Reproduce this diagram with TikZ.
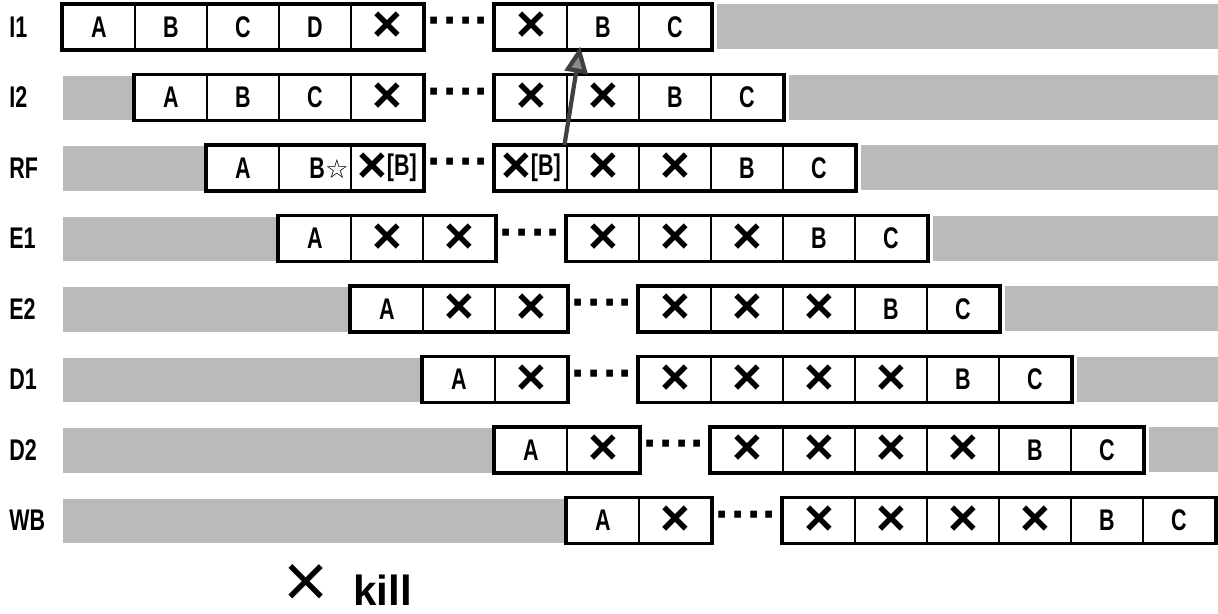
\documentclass[tikz,border=0pt]{standalone}
\usepackage{fontspec}
\usepackage{tikz}
\usetikzlibrary{arrows.meta, positioning, calc}
\newfontfamily\narrowsf[FakeStretch=0.72]{Liberation Sans}
\newfontfamily\symsf{Liberation Sans}
\newfontfamily\starsf{DejaVu Sans}
\newcommand{\kx}{{\symsf\bfseries\fontsize{29}{29}\selectfont\raisebox{-4pt}{×}}}

\begin{document}
\begin{tikzpicture}[
  x=0.02cm, y=-0.02cm,
  cell/.style={draw, line width=1.1pt, minimum width=1.44cm, minimum height=0.88cm,
               inner sep=0pt, font=\narrowsf\bfseries\fontsize{17}{17}\selectfont},
  grp/.style={line width=1.8pt},
  shade/.style={fill=black!27},
  lbl/.style={anchor=west, inner sep=0pt, font=\narrowsf\bfseries\fontsize{17}{17}\selectfont},
  dots/.style={inner sep=0pt, font=\symsf\bfseries\fontsize{27}{27}\selectfont},
  arr/.style={line width=2.4pt, draw=black!75, -{Triangle[length=15pt, width=13pt, fill=black!45]}}
]
\useasboundingbox (0,0) rectangle (1218,613);
\foreach \nm/\lb/\s/\na/\nb/\fa/\fb [count=\r from 0] in {
  i1/I1/0/5/3/{A,B,C,D,\kx}/{\kx,B,C},
  i2/I2/1/4/4/{A,B,C,\kx}/{\kx,\kx,B,C},
  rf/RF/2/3/5/{A,{\hspace*{16pt}B{\starsf\fontsize{15}{15}\selectfont ☆}},{\kx\fontsize{17}{17}\selectfont[B]}}/{{\kx\fontsize{17}{17}\selectfont[B]},\kx,\kx,B,C},
  e1/E1/3/3/5/{A,\kx,\kx}/{\kx,\kx,\kx,B,C},
  e2/E2/4/3/5/{A,\kx,\kx}/{\kx,\kx,\kx,B,C},
  d1/D1/5/2/6/{A,\kx}/{\kx,\kx,\kx,\kx,B,C},
  d2/D2/6/2/6/{A,\kx}/{\kx,\kx,\kx,\kx,B,C},
  wb/WB/7/2/6/{A,\kx}/{\kx,\kx,\kx,\kx,B,C}} {
  \pgfmathsetmacro\y{27+70.5*\r}
  \pgfmathtruncatemacro\ea{\s+\na-1}
  \pgfmathtruncatemacro\dc{\s+\na}
  \pgfmathtruncatemacro\sb{\s+\na+1}
  \pgfmathtruncatemacro\eb{\s+\na+\nb}
  \node[lbl] (\nm) at (9,\y) {\lb};
  \foreach \t [count=\k from \s] in \fa
    \node[cell] (\nm-\k) at ({99+72*\k},\y) {\t};
  \foreach \t [count=\k from \sb] in \fb
    \node[cell] (\nm-\k) at ({99+72*\k},\y) {\t};
  \fill[shade] (63,\y-22) rectangle (\nm-\s.south west);
  \fill[shade] ([xshift=3pt]\nm-\eb.north east) rectangle (1218,\y+22);
  \draw[grp] (\nm-\s.north west) rectangle (\nm-\ea.south east);
  \draw[grp] (\nm-\sb.north west) rectangle (\nm-\eb.south east);
  \node[dots] (\nm-d) at ({99+72*\dc},\y) {····};
}
\draw[arr] ([xshift=-2pt]rf-6.north east) -- ([xshift=7pt, yshift=2pt]i1-6.south east);
\node[inner sep=0pt, font=\symsf\fontsize{44}{44}\selectfont] (kx) at (306,586) {×};
\node[inner sep=0pt, anchor=base west, font=\symsf\bfseries\fontsize{24}{24}\selectfont]
  (kill) at (353,605) {kill};
\end{tikzpicture}
\end{document}
